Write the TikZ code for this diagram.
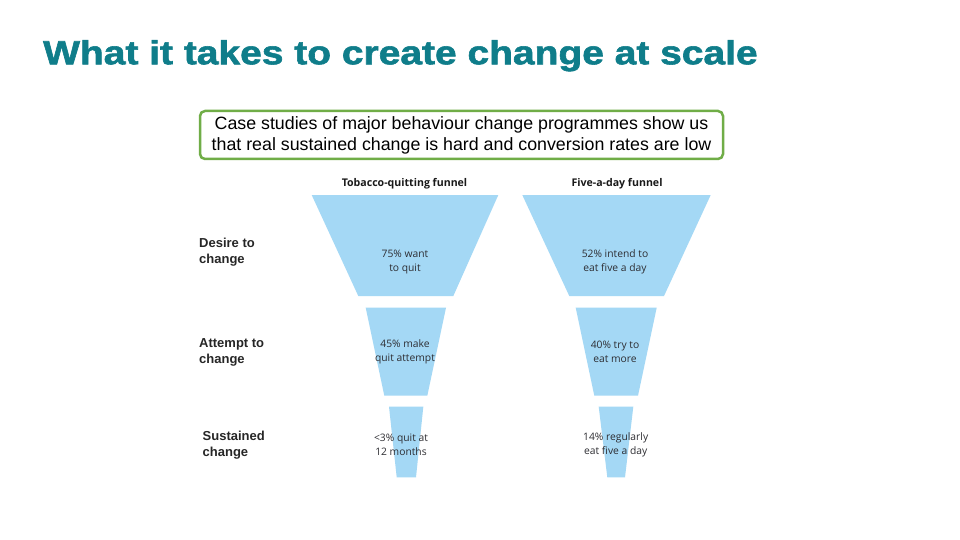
\documentclass[tikz,border=0pt]{standalone}
\usepackage{fontspec}
\setmainfont{Liberation Sans}
\newfontfamily\funnelfont{Open Sans}
\newfontfamily\titlefont[FakeBold=1.6]{Liberation Sans Bold}
\definecolor{titleteal}{RGB}{15,125,138}
\definecolor{boxgreen}{RGB}{112,173,71}
\definecolor{funnelblue}{RGB}{164,216,245}
\definecolor{ftextcol}{RGB}{45,45,50}
\tikzset{
  funnelshape/.style={fill=funnelblue},
  ftext/.style={align=center, inner sep=0pt, text=ftextcol, font=\funnelfont\fontsize{10.3}{14}\selectfont},
  fhead/.style={inner sep=0pt, text=black!90, font=\funnelfont\bfseries\fontsize{10.6}{12}\selectfont},
  stagelabel/.style={anchor=west, align=left, inner sep=0pt, text=black!85, font=\bfseries\fontsize{13}{16}\selectfont},
}
\begin{document}
\begin{tikzpicture}[x=1pt,y=-1pt]
\useasboundingbox (0,0) rectangle (960,540);
\fill[white] (0,0) rectangle (960,540);

% title
\node[anchor=base west, inner sep=0pt, text=titleteal, font=\titlefont\fontsize{33.5}{36}\selectfont] (title) at (43,64.3) {\scalebox{1.163}[1]{What it takes to create change at scale}};

% framed statement
\node[draw=boxgreen, line width=2.5pt, rounded corners=5pt, minimum width=523pt, minimum height=48pt, inner sep=0pt, align=center, font=\fontsize{17.8}{21}\selectfont] (box) at (461.5,135) {Case studies of major behaviour change programmes show us\\that real sustained change is hard and conversion rates are low};

% headings
\node[fhead] (h1) at (404.5,184) {Tobacco-quitting funnel};
\node[fhead] (h2) at (617,184) {Five-a-day funnel};

% funnel 1
\fill[funnelshape] (311.7,195) -- (498.3,195) -- (453.3,296) -- (358.3,296) -- cycle;
\fill[funnelshape] (365.7,307.7) -- (446,307.7) -- (427.3,395.7) -- (384.3,395.7) -- cycle;
\fill[funnelshape] (389,406.7) -- (423.3,406.7) -- (416,477.3) -- (396.7,477.3) -- cycle;

% funnel 2
\fill[funnelshape] (522.3,195) -- (710.7,195) -- (664,296) -- (569.3,296) -- cycle;
\fill[funnelshape] (575.7,307.7) -- (656.7,307.7) -- (638,395.7) -- (594.3,395.7) -- cycle;
\fill[funnelshape] (598.7,406.7) -- (633.3,406.7) -- (625,477.3) -- (607.3,477.3) -- cycle;

% funnel texts
\node[ftext] (a1) at (405,262) {75\% want\\to quit};
\node[ftext] (a2) at (405,352) {45\% make\\quit attempt};
\node[ftext] (a3) at (401,444.5) {<3\% quit at\\12 months};
\node[ftext] (b1) at (615,262) {52\% intend to\\eat five a day};
\node[ftext] (b2) at (615,352) {40\% try to\\eat more};
\node[ftext] (b3) at (615.7,444.5) {14\% regularly\\eat five a day};

% stage labels
\node[stagelabel] (s1) at (199,252) {Desire to\\change};
\node[stagelabel] (s2) at (199,352.8) {Attempt to\\change};
\node[stagelabel] (s3) at (202.5,445) {Sustained\\change};
\end{tikzpicture}
\end{document}
